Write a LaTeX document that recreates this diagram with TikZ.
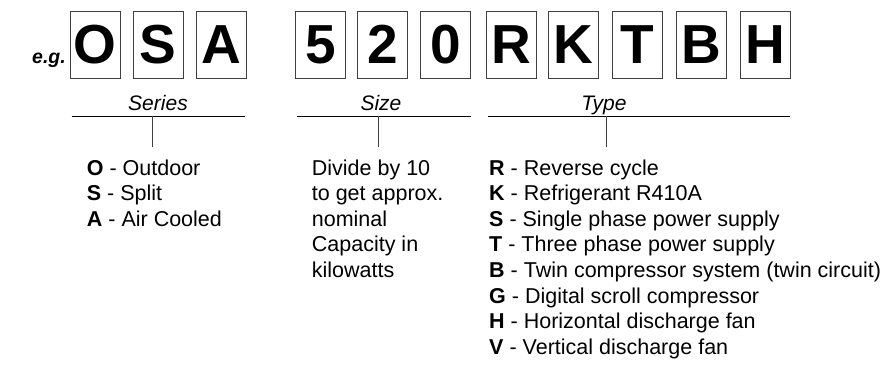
\documentclass[tikz,border=0pt]{standalone}
\usepackage{fontspec}
\setmainfont{Liberation Sans}
\begin{document}
\begin{tikzpicture}[x=1pt,y=-1pt,
  letterbox/.style={draw=black!75,line width=0.8pt,minimum width=50,minimum height=67,inner sep=0pt,
    font=\fontsize{55}{55}\selectfont\bfseries},
  grouplabel/.style={anchor=base,inner sep=0pt,font=\fontsize{21}{24}\selectfont\itshape},
  listtext/.style={anchor=base west,inner sep=0pt,font=\fontsize{21.5}{25.6}\selectfont},
  rule/.style={line width=0.9pt,black},
  tick/.style={line width=0.9pt,black!75}]
\useasboundingbox (0,0) rectangle (893,364);
% example prefix
\node[anchor=base west,inner sep=0pt,font=\fontsize{19.5}{19.5}\selectfont\bfseries\itshape] (eg) at (32,63) {e.g.};
% letter boxes
\foreach \name/\cx/\ch in {bO/95.3/O,bS/158.2/S,bA/221/A,b5/320.3/5,b2/382.7/2,b0/445.8/0,bR/511.7/R,bK/573.8/K,bT/637.3/T,bB/701.3/B,bH/764.9/H}
  \node[letterbox] (\name) at (\cx,44.5) {\ch};
% group labels
\node[grouplabel] (series) at (158,110) {Series};
\node[grouplabel] (size) at (381,110) {Size};
\node[grouplabel] (type) at (604,110) {Type};
% rules and ticks
\coordinate (sL) at (71.7,116); \coordinate (sR) at (245,116);
\coordinate (sT) at (152.7,116); \coordinate (sB) at (152.7,146.7);
\coordinate (zL) at (296.7,116); \coordinate (zR) at (470.7,116);
\coordinate (zT) at (378.3,116); \coordinate (zB) at (378.3,146.7);
\coordinate (tL) at (488,116); \coordinate (tR) at (790,116);
\coordinate (tT) at (606,116); \coordinate (tB) at (606,146.7);
\draw[rule] (sL) -- (sR);
\draw[rule] (zL) -- (zR);
\draw[rule] (tL) -- (tR);
\draw[tick] (sT) -- (sB);
\draw[tick] (zT) -- (zB);
\draw[tick] (tT) -- (tB);
% series list
\foreach \i/\k/\t in {0/O/Outdoor,1/S/Split,2/A/Air Cooled}
  \node[listtext] (ser\i) at (86.7,175+25.6*\i) {\textbf{\k} - \t};
% size text
\foreach \i/\t in {0/Divide by 10,1/to get approx.,2/nominal,3/Capacity in,4/kilowatts}
  \node[listtext] (siz\i) at (311.7,175+25.6*\i) {\t};
% type list
\foreach \i/\k/\t in {0/R/Reverse cycle,1/K/Refrigerant R410A,2/S/Single phase power supply,3/T/Three phase power supply,4/B/Twin compressor system (twin circuit),5/G/Digital scroll compressor,6/H/Horizontal discharge fan,7/V/Vertical discharge fan}
  \node[listtext] (typ\i) at (489,175+25.6*\i) {\textbf{\k} - \t};
\end{tikzpicture}
\end{document}
